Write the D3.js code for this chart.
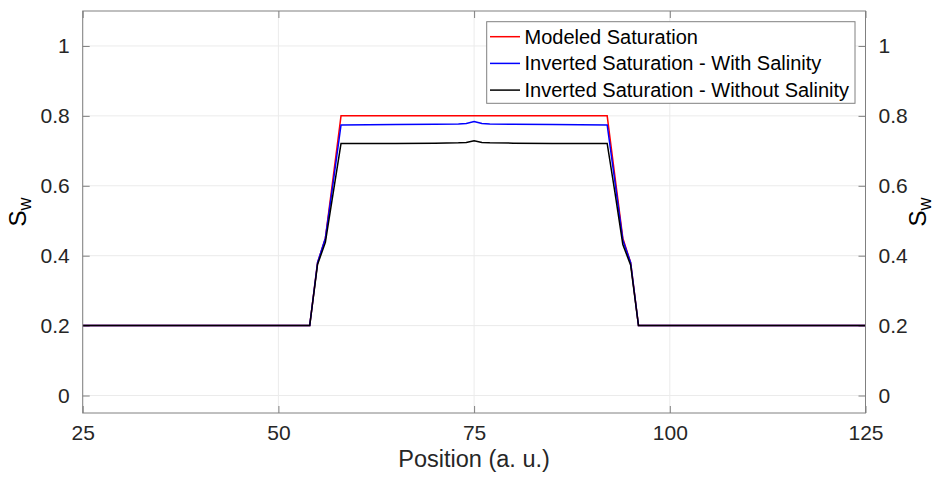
<!DOCTYPE html>
<html>
<head>
<meta charset="utf-8">
<script src="https://cdn.jsdelivr.net/npm/d3@7"></script>
<style>
  body { margin: 0; background: #fff; }
  svg { display: block; font-family: "Liberation Sans", Arial, sans-serif; }
</style>
</head>
<body>
<svg id="chart" width="949" height="480"></svg>
<script>
// ---- data (piecewise-linear breakpoints) ----
const modeledPos = [25, 54, 55, 56, 57, 58, 92, 93, 94, 95, 96, 125];
const modeledSw  = [0.2, 0.2, 0.38, 0.45, 0.625, 0.80, 0.80, 0.625, 0.45, 0.38, 0.2, 0.2];

const withSalPos = [25, 54, 55, 56, 57, 58, 65, 70, 73, 74, 75, 76, 77, 80, 85, 92, 93, 94, 95, 96, 125];
const withSalSw  = [0.2, 0.2, 0.38, 0.45, 0.61, 0.774, 0.775, 0.776, 0.777, 0.778, 0.784, 0.778, 0.777, 0.776, 0.775, 0.774, 0.61, 0.445, 0.38, 0.2, 0.2];

const withoutSalPos = [25, 54, 55, 56, 57, 58, 65, 70, 73, 74, 75, 76, 77, 80, 85, 92, 93, 94, 95, 96, 125];
const withoutSalSw  = [0.2, 0.2, 0.375, 0.438, 0.58, 0.721, 0.721, 0.722, 0.723, 0.724, 0.729, 0.724, 0.723, 0.722, 0.721, 0.721, 0.58, 0.432, 0.373, 0.2, 0.2];

const xTicks = [25, 50, 75, 100, 125];
const yTicks = [0, 0.2, 0.4, 0.6, 0.8, 1];

const seriesNames  = ["Modeled Saturation", "Inverted Saturation - With Salinity", "Inverted Saturation - Without Salinity"];
const seriesColors = ["#ff0000", "#0000ff", "#000000"];

// ---- layout ----
const svg = d3.select("#chart");
const L = 82.7, R = 865.5, T = 11, B = 413;

const x = d3.scaleLinear().domain([25, 125]).range([L, R]);
const y = d3.scaleLinear().domain([-0.05, 1.1]).range([B, T]);

const gridColor = "#ebebeb";
const axisColor = "#808080";
const textColor = "#262626";

// grid
const grid = svg.append("g");
grid.selectAll(".gx").data(xTicks).join("line")
  .attr("x1", d => x(d)).attr("x2", d => x(d))
  .attr("y1", T).attr("y2", B)
  .attr("stroke", gridColor).attr("stroke-width", 1);
grid.selectAll(".gy").data(yTicks).join("line")
  .attr("x1", L).attr("x2", R)
  .attr("y1", d => y(d)).attr("y2", d => y(d))
  .attr("stroke", gridColor).attr("stroke-width", 1);

// axes
function styleAxis(g) {
  g.select(".domain").remove();
  g.selectAll(".tick line").attr("stroke", axisColor);
  g.selectAll(".tick text").attr("fill", textColor)
    .style("font-size", "21px").style("font-family", "'Liberation Sans', Arial, sans-serif");
}
const yFmt = d => d === 0 || d === 1 ? d3.format("d")(d) : d3.format(".1f")(d);
svg.append("g").attr("transform", `translate(0,${B})`)
  .call(d3.axisBottom(x).tickValues(xTicks).tickSize(-7).tickPadding(12).tickFormat(d3.format("d")))
  .call(styleAxis);
svg.append("g").attr("transform", `translate(0,${T})`)
  .call(d3.axisTop(x).tickValues(xTicks).tickSize(-7).tickFormat(""))
  .call(styleAxis);
svg.append("g").attr("transform", `translate(${L},0)`)
  .call(d3.axisLeft(y).tickValues(yTicks).tickSize(-7).tickPadding(13).tickFormat(yFmt))
  .call(styleAxis);
svg.append("g").attr("transform", `translate(${R},0)`)
  .call(d3.axisRight(y).tickValues(yTicks).tickSize(-7).tickPadding(13).tickFormat(yFmt))
  .call(styleAxis);

// lines
svg.append("clipPath").attr("id", "clip").append("rect")
  .attr("x", L).attr("y", T).attr("width", R - L).attr("height", B - T);
const line = d3.line().x(d => x(d[0])).y(d => y(d[1]));
const series = [
  d3.zip(modeledPos, modeledSw),
  d3.zip(withSalPos, withSalSw),
  d3.zip(withoutSalPos, withoutSalSw)
];
svg.append("g").attr("clip-path", "url(#clip)")
  .selectAll("path").data(series).join("path")
  .attr("d", line)
  .attr("fill", "none")
  .attr("stroke", (d, i) => seriesColors[i])
  .attr("stroke-width", 1.5)
  .attr("stroke-linejoin", "miter");

// box
svg.append("rect").attr("x", L).attr("y", T).attr("width", R - L).attr("height", B - T)
  .attr("fill", "none").attr("stroke", axisColor).attr("stroke-width", 1);

// legend
const lg = svg.append("g");
const lgX = 486.7, lgY = 21.7, lgW = 368.3, lgH = 81.6;
lg.append("rect").attr("x", lgX).attr("y", lgY).attr("width", lgW).attr("height", lgH)
  .attr("fill", "#fff").attr("stroke", axisColor).attr("stroke-width", 1);
seriesNames.forEach((name, i) => {
  const cy = 36.7 + i * 26.7;
  lg.append("line").attr("x1", 490).attr("x2", 520).attr("y1", cy).attr("y2", cy)
    .attr("stroke", seriesColors[i]).attr("stroke-width", 1.5);
  lg.append("text").attr("x", 524.5).attr("y", cy).attr("dy", "0.35em")
    .attr("fill", "#000").style("font-size", "20px").text(name);
});

// axis labels
svg.append("text").attr("x", (L + R) / 2).attr("y", 467)
  .attr("text-anchor", "middle").attr("fill", textColor)
  .style("font-size", "23.5px").text("Position (a. u.)");

function yLabel(cx) {
  const t = svg.append("text")
    .attr("transform", `translate(${cx},${(T + B) / 2}) rotate(-90)`)
    .attr("text-anchor", "middle").attr("fill", "#000")
    .style("font-size", "24px");
  t.append("tspan").text("S");
  t.append("tspan").attr("dy", "0.3em").style("font-size", "18px").text("w");
}
yLabel(26);
yLabel(926);
</script>
</body>
</html>
